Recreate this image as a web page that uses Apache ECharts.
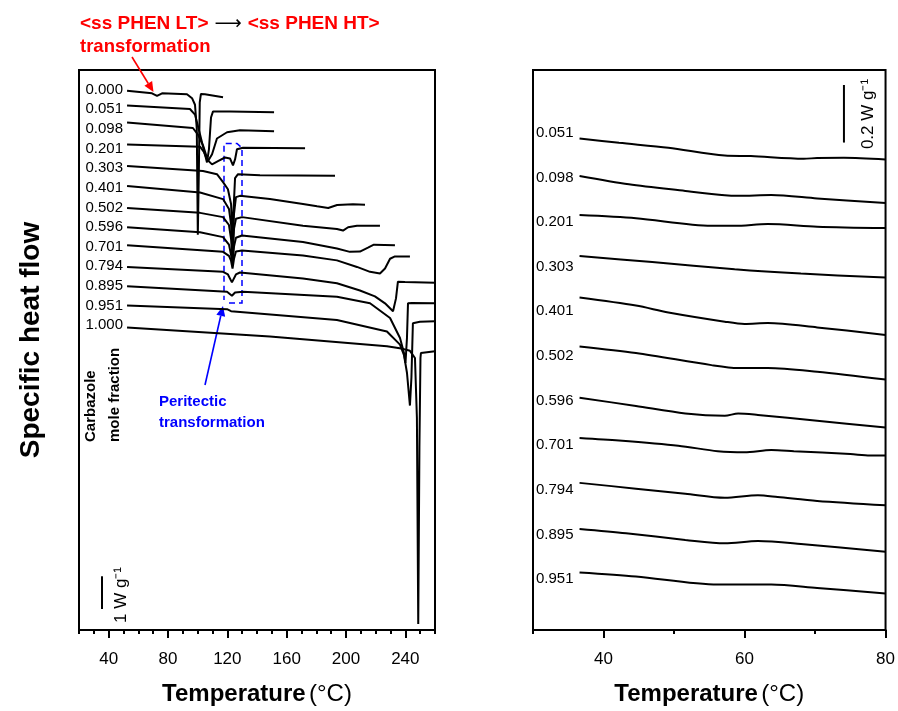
<!DOCTYPE html>
<html lang="en">
<head>
<meta charset="UTF-8">
<title>DSC curves</title>
<script src="https://cdn.jsdelivr.net/npm/echarts@6/dist/echarts.min.js"></script>
<style>
    body { margin: 0; background: #fff; }
    #main { width: 898px; height: 711px; }
</style>
</head>
<body>
<div id="main"></div>
<script>
// carbazole mole fractions (curve labels)
var leftNames = ['0.000', '0.051', '0.098', '0.201', '0.303', '0.401', '0.502', '0.596', '0.701', '0.794', '0.895', '0.951', '1.000'];
var rightNames = ['0.051', '0.098', '0.201', '0.303', '0.401', '0.502', '0.596', '0.701', '0.794', '0.895', '0.951'];
var leftTicks = [40, 80, 120, 160, 200, 240];
var rightTicks = [40, 60, 80];

// left panel: [T (°C), shifted heat flow (W/g)]
var L000 = [[52.4,16.46],[69.2,16.38],[72.6,16.30],[76.0,16.38],[92.8,16.35],[96.2,16.23],[98.2,16.03],[99.4,15.3],[100.1,12.06],[100.8,14.0],[101.4,16.1],[102.2,16.36],[104.9,16.35],[117.1,16.26]];
var L051 = [[52.4,16.01],[94.8,15.90],[98.2,15.73],[101.6,15.12],[104.9,14.52],[106.3,14.27],[107.6,14.67],[109.0,15.64],[110.3,15.82],[121.8,15.82],[151.5,15.80]];
var L098 = [[52.4,15.49],[96.8,15.32],[100.2,15.12],[103.6,14.79],[107.0,14.31],[109.7,14.52],[113.0,15.0],[119.8,15.19],[128.5,15.25],[151.5,15.22]];
var L201 = [[52.4,14.82],[101.6,14.75],[104.3,14.58],[106.3,14.36],[109.7,14.21],[113.7,14.31],[118.4,14.42],[121.8,14.39],[123.8,14.18],[125.2,14.36],[126.5,14.67],[130.6,14.72],[172.4,14.70]];
var L303 = [[52.4,14.16],[103.6,14.01],[113.0,13.91],[117.1,13.67],[120.4,13.45],[122.5,13.0],[123.5,12.09],[124.5,13.12],[125.2,13.79],[127.2,13.91],[142.0,13.88],[192.6,13.86]];
var L401 = [[52.4,13.55],[101.6,13.35],[117.1,13.15],[121.1,12.85],[122.5,12.39],[123.5,11.58],[124.5,12.70],[125.8,13.21],[128.5,13.25],[148.7,13.15],[171.0,13.0],[180.5,12.93],[188.0,12.88],[194.0,12.97],[204.7,12.99],[212.8,12.98]];
var L502 = [[52.4,12.88],[101.6,12.73],[117.1,12.60],[121.1,12.36],[122.5,11.94],[123.5,11.27],[124.5,12.24],[125.8,12.55],[129.9,12.60],[171.0,12.34],[193.9,12.24],[198.0,12.19],[201.4,12.29],[207.4,12.34],[222.9,12.34]];
var L596 = [[52.4,12.29],[101.6,12.14],[117.1,11.99],[121.1,11.76],[122.5,11.45],[123.5,11.15],[124.5,11.70],[125.8,11.97],[129.9,12.04],[171.0,11.84],[193.9,11.64],[202.6,11.54],[209.4,11.55],[214.8,11.67],[218.8,11.76],[233.0,11.74]];
var L701 = [[52.4,11.74],[117.1,11.54],[121.1,11.42],[122.5,11.27],[123.5,11.03],[124.5,11.33],[125.8,11.55],[129.9,11.58],[171.0,11.43],[193.9,11.28],[207.4,11.08],[216.2,10.93],[222.9,10.88],[226.3,11.03],[229.7,11.33],[233.0,11.40],[243.1,11.40]];
var L794 = [[52.4,11.08],[117.1,10.93],[120.4,10.85],[123.1,10.61],[125.8,10.85],[128.5,10.91],[171.0,10.73],[193.9,10.58],[209.4,10.36],[219.5,10.18],[226.3,9.97],[231.7,9.73],[233.7,10.12],[235.0,10.63],[239.8,10.62],[260.0,10.60]];
var L895 = [[52.4,10.49],[119.8,10.32],[121.1,10.30],[123.1,10.20],[125.2,10.30],[130.6,10.32],[193.9,10.17],[216.2,9.97],[229.7,9.52],[236.4,8.91],[239.1,8.45],[240.1,8.15],[241.1,8.91],[241.8,9.97],[244.5,9.98],[260.0,9.97]];
var L951 = [[52.4,9.90],[119.8,9.79],[121.1,9.74],[122.5,9.73],[193.9,9.46],[227.6,9.11],[236.4,8.71],[239.1,8.39],[241.1,7.85],[243.1,6.85],[244.1,7.70],[245.1,9.36],[249.8,9.41],[260.0,9.42]];
var L1000 = [[52.4,9.23],[148.7,8.96],[227.6,8.66],[238.4,8.58],[243.1,8.52],[246.5,8.30],[247.8,6.48],[248.7,0.18],[249.5,5.58],[250.2,8.30],[250.5,8.45],[260.0,8.51]];

// right panel (zoom 30-80 °C)
var R051 = [[36.6,1.707],[42.2,1.692],[49.2,1.675],[57.2,1.648],[60.9,1.646],[68.4,1.637],[70.3,1.639],[74.1,1.640],[80,1.634]];
var R098 = [[36.6,1.577],[43.6,1.548],[51.6,1.525],[57.2,1.510],[59.1,1.508],[63.8,1.511],[70.3,1.499],[80,1.483]];
var R201 = [[36.6,1.441],[44.6,1.430],[55.3,1.404],[58.6,1.404],[63.3,1.410],[70.3,1.401],[80,1.396]];
var R303 = [[36.6,1.299],[46.9,1.278],[58.6,1.253],[68.0,1.238],[80,1.224]];
var R401 = [[36.6,1.155],[44.6,1.127],[49.2,1.103],[57.2,1.071],[60.0,1.063],[63.3,1.066],[70.3,1.051],[80,1.025]];
var R502 = [[36.6,0.985],[44.6,0.962],[55.3,0.920],[59.1,0.910],[63.3,0.910],[70.3,0.897],[80,0.870]];
var R596 = [[36.6,0.807],[44.6,0.778],[51.6,0.752],[57.2,0.744],[59.1,0.752],[61.9,0.747],[70.3,0.727],[80,0.703]];
var R701 = [[36.6,0.667],[42.2,0.658],[50.6,0.640],[56.2,0.621],[60.0,0.617],[63.8,0.625],[67.0,0.621],[75.0,0.611],[77.8,0.606],[80,0.606]];
var R794 = [[36.6,0.511],[44.6,0.491],[51.6,0.473],[57.2,0.459],[61.9,0.468],[64.7,0.462],[70.3,0.448],[80,0.433]];
var R895 = [[36.6,0.351],[43.2,0.336],[51.6,0.313],[57.2,0.301],[61.9,0.309],[68.0,0.299],[80,0.272]];
var R951 = [[36.6,0.200],[44.6,0.186],[56.2,0.158],[63.8,0.158],[70.3,0.146],[80,0.127]];

// scale bars (1 W/g left, 0.2 W/g right)
var scaleLeft = [[35.5,0.64],[35.5,1.64]];
var scaleRight = [[74.1,1.693],[74.1,1.893]];

var leftCurves = [L000, L051, L098, L201, L303, L401, L502, L596, L701, L794, L895, L951, L1000];
var rightCurves = [R051, R098, R201, R303, R401, R502, R596, R701, R794, R895, R951];

var FONT = 'Liberation Sans, Arial, sans-serif';

function curve(data, xi, yi, name, smooth) {
    return {
        name: name, type: 'line', data: data,
        xAxisIndex: xi, yAxisIndex: yi, smooth: smooth || false,
        showSymbol: false, symbol: 'none', silent: true,
        lineStyle: { color: '#000', width: 2 }
    };
}

function arrow(x1, y1, x2, y2, color) {
    var dx = x2 - x1, dy = y2 - y1, len = Math.sqrt(dx * dx + dy * dy);
    var ux = dx / len, uy = dy / len, hl = 10, hw = 4.5;
    var bx = x2 - ux * hl, by = y2 - uy * hl;
    return [
        { type: 'line', shape: { x1: x1, y1: y1, x2: bx, y2: by }, style: { stroke: color, lineWidth: 1.6 } },
        { type: 'polygon', shape: { points: [[x2, y2], [bx - uy * hw, by + ux * hw], [bx + uy * hw, by - ux * hw]] }, style: { fill: color } }
    ];
}

var series = [];
leftCurves.forEach(function (d, i) { series.push(curve(d, 0, 0, 'L' + leftNames[i])); });
rightCurves.forEach(function (d, i) { series.push(curve(d, 2, 1, 'R' + rightNames[i], 0.3)); });
series.push(curve(scaleLeft, 0, 0, 'scaleL'));
series.push(curve(scaleRight, 2, 1, 'scaleR'));

var axisName = '{b|Temperature} {n|(°C)}';
var nameStyle = { rich: { b: { fontSize: 24, fontWeight: 'bold', fontFamily: FONT, color: '#000' }, n: { fontSize: 24, fontFamily: FONT, color: '#000' } } };

function minorAxis(gi, min, max) {
    return {
        type: 'value', gridIndex: gi, min: min, max: max, interval: 10, position: 'bottom',
        axisLine: { show: true, lineStyle: { color: '#000', width: 2 } },
        axisTick: { show: true, length: 4, lineStyle: { color: '#000', width: 2 } },
        axisLabel: { show: false }, splitLine: { show: false }
    };
}
function majorAxis(gi, min, max, ticks) {
    return {
        type: 'value', gridIndex: gi, min: min, max: max, position: 'bottom',
        name: axisName, nameLocation: 'middle', nameGap: 52, nameTextStyle: nameStyle,
        axisLine: { show: false },
        axisTick: { show: true, length: 8, customValues: ticks, lineStyle: { color: '#000', width: 2 } },
        axisLabel: { show: true, customValues: ticks, fontSize: 17, margin: 21, color: '#000', fontFamily: FONT },
        splitLine: { show: false }
    };
}

var chart = echarts.init(document.getElementById('main'));

var graphics = [];
// curve labels
leftNames.forEach(function (n, i) {
    graphics.push({ type: 'text', x: 123, y: 89.5 + i * 19.65, style: { text: n, fontSize: 15, fontFamily: FONT, fill: '#000', align: 'right', verticalAlign: 'middle' } });
});
rightNames.forEach(function (n, i) {
    graphics.push({ type: 'text', x: 536, y: 132.7 + i * 44.66, style: { text: n, fontSize: 15, fontFamily: FONT, fill: '#000', align: 'left', verticalAlign: 'middle' } });
});
// y title and side texts
graphics.push({ type: 'text', x: 31, y: 340, rotation: Math.PI / 2, style: { text: 'Specific heat flow', fontSize: 28, fontWeight: 'bold', fontFamily: FONT, fill: '#000', align: 'center', verticalAlign: 'middle' } });
graphics.push({ type: 'text', x: 91, y: 442, rotation: Math.PI / 2, style: { text: 'Carbazole', fontSize: 15, fontWeight: 'bold', fontFamily: FONT, fill: '#000', align: 'left', verticalAlign: 'middle' } });
graphics.push({ type: 'text', x: 114.5, y: 442, rotation: Math.PI / 2, style: { text: 'mole fraction', fontSize: 15, fontWeight: 'bold', fontFamily: FONT, fill: '#000', align: 'left', verticalAlign: 'middle' } });
graphics.push({ type: 'text', x: 121, y: 595, rotation: Math.PI / 2, style: { text: '1 W g⁻¹', fontSize: 17, fontFamily: FONT, fill: '#000', align: 'center', verticalAlign: 'middle' } });
graphics.push({ type: 'text', x: 868, y: 114, rotation: Math.PI / 2, style: { text: '0.2 W g⁻¹', fontSize: 17, fontFamily: FONT, fill: '#000', align: 'center', verticalAlign: 'middle' } });
// red annotation
graphics.push({ type: 'text', x: 80, y: 24, style: {
    text: '{r|<ss PHEN LT>}{k|⟶}{r|<ss PHEN HT>}', verticalAlign: 'middle',
    rich: { r: { fill: '#ff0000', fontWeight: 'bold', fontSize: 19, fontFamily: FONT }, k: { fill: '#000', fontSize: 19, fontFamily: 'DejaVu Sans, ' + FONT, padding: [0, 6, 0, 6] } }
} });
graphics.push({ type: 'text', x: 80, y: 47, style: { text: 'transformation', fill: '#ff0000', fontWeight: 'bold', fontSize: 18.5, fontFamily: FONT, verticalAlign: 'middle' } });
graphics = graphics.concat(arrow(132, 57, 153.5, 92, '#ff0000'));
// peritectic box + note
graphics.push({ type: 'polyline', shape: { points: [[229, 303], [242, 303], [242, 148], [237, 143.5], [224, 143.5], [224, 300]] },
    style: { stroke: '#0000ff', lineWidth: 1.5, lineDash: [6, 4], fill: null } });
graphics = graphics.concat(arrow(205, 385, 223, 306, '#0000ff'));
graphics.push({ type: 'text', x: 159, y: 402, style: { text: 'Peritectic', fill: '#0000ff', fontWeight: 'bold', fontSize: 15, fontFamily: FONT, verticalAlign: 'middle' } });
graphics.push({ type: 'text', x: 159, y: 423, style: { text: 'transformation', fill: '#0000ff', fontWeight: 'bold', fontSize: 15, fontFamily: FONT, verticalAlign: 'middle' } });

chart.setOption({
    animation: false,
    backgroundColor: '#fff',
    grid: [
        { left: 79, top: 70, width: 356, height: 564, show: true, borderColor: '#000', borderWidth: 2, backgroundColor: 'transparent' },
        { left: 533, top: 70, width: 356, height: 564, show: true, borderColor: '#000', borderWidth: 2, backgroundColor: 'transparent' }
    ],
    xAxis: [
        minorAxis(0, 20, 260),
        majorAxis(0, 20, 260, leftTicks),
        minorAxis(1, 30, 80),
        majorAxis(1, 30, 80, rightTicks)
    ],
    yAxis: [
        { type: 'value', gridIndex: 0, min: 0, max: 17.09, show: false },
        { type: 'value', gridIndex: 1, min: 0, max: 1.945, show: false }
    ],
    series: series,
    graphic: graphics
});
</script>
</body>
</html>
